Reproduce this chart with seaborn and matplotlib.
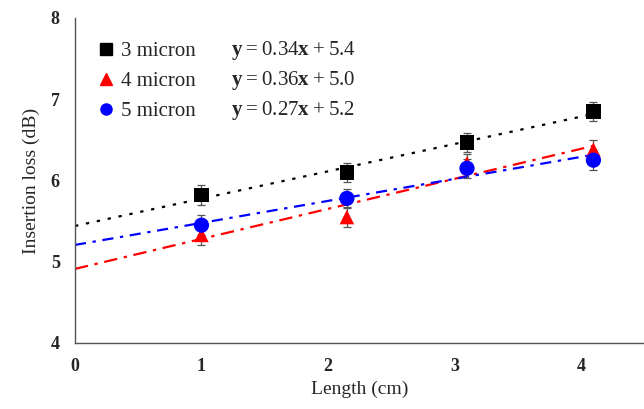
import numpy as np
import pandas as pd
import seaborn as sns
import matplotlib.pyplot as plt
from matplotlib.lines import Line2D

length = [1.0, 2.15, 3.1, 4.1]
loss_3 = [5.82, 6.10, 6.47, 6.85]
loss_4 = [5.33, 5.55, 6.21, 6.38]
loss_5 = [5.45, 5.78, 6.15, 6.25]
err_3 = [0.12, 0.12, 0.12, 0.12]
err_4 = [0.12, 0.12, 0.12, 0.12]
err_5 = [0.12, 0.12, 0.12, 0.12]
labels = ["3 micron", "4 micron", "5 micron"]
equations = [r"$\mathbf{y} = 0.34\mathbf{x} + 5.4$",
             r"$\mathbf{y} = 0.36\mathbf{x} + 5.0$",
             r"$\mathbf{y} = 0.27\mathbf{x} + 5.2$"]

sns.set_style("white")
plt.rcParams['font.family'] = ['Liberation Serif', 'DejaVu Serif']
plt.rcParams['mathtext.fontset'] = 'custom'
plt.rcParams['mathtext.rm'] = 'Liberation Serif'
plt.rcParams['mathtext.bf'] = 'Liberation Serif:bold'

df = pd.DataFrame({
    'Length': length * 3,
    'Loss': loss_3 + loss_4 + loss_5,
    'Err': err_3 + err_4 + err_5,
    'Width': [labels[0]] * 4 + [labels[1]] * 4 + [labels[2]] * 4,
})

colors = {labels[0]: 'black', labels[1]: '#ff0000', labels[2]: '#0000ff'}
markers = {labels[0]: 's', labels[1]: '^', labels[2]: 'o'}
sizes = {labels[0]: 110, labels[1]: 110, labels[2]: 120}
styles = {labels[0]: (0, (1.5, 3.5)), labels[1]: (0, (6, 3, 1.5, 3)), labels[2]: (0, (5, 3, 1.5, 3))}

fig = plt.figure(figsize=(6.44, 4.09), dpi=100)
ax = fig.add_axes([0.1165, 0.1614, 0.8835, 0.7946])

for lab in labels:
    sub = df[df['Width'] == lab]
    slope, icpt = np.polyfit(sub['Length'], sub['Loss'], 1)
    xs = np.array([0, sub['Length'].max()])
    ax.plot(xs, slope * xs + icpt, color=colors[lab], linestyle=styles[lab], lw=1.6, zorder=1)
    ax.errorbar(sub['Length'], sub['Loss'], yerr=sub['Err'], fmt='none', ecolor='#555555',
                elinewidth=0.9, capsize=3, capthick=0.9, zorder=2)
    sns.scatterplot(x=sub['Length'], y=sub['Loss'], color=colors[lab], marker=markers[lab],
                    s=sizes[lab], edgecolor='none', ax=ax, zorder=3)

ax.set_xlim(0, 4.5)
ax.set_ylim(4, 8)
ax.set_xticks([0, 1, 2, 3, 4])
ax.set_yticks([4, 5, 6, 7, 8])
for s in ['top', 'right']:
    ax.spines[s].set_visible(False)
for s in ['left', 'bottom']:
    ax.spines[s].set_color('#555555')
    ax.spines[s].set_linewidth(1.0)
ax.tick_params(axis='both', direction='out', length=5, width=1, color='#555555',
               labelsize=13, pad=6)
for t in ax.get_xticklabels() + ax.get_yticklabels():
    t.set_fontweight('bold')
ax.set_xlabel('Length (cm)', fontsize=14, labelpad=4)
ax.set_ylabel('Insertion loss (dB)', fontsize=14, labelpad=8)

handles = [Line2D([], [], linestyle='none', marker=markers[l], color=colors[l], markersize=8)
           for l in labels]
ax.legend(handles, labels, loc='upper left', bbox_to_anchor=(0.0, 0.985), frameon=False,
          fontsize=15, handletextpad=0.1, labelspacing=0.5, handlelength=1.2)

for i, eq in enumerate(equations):
    ax.text(0.275, 0.9 - i * 0.093, eq, transform=ax.transAxes, fontsize=15, va='center')

fig.savefig('out.png', dpi=100)
